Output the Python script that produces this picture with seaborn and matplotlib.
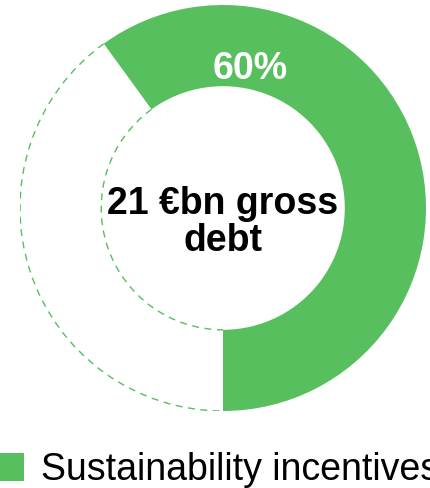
import numpy as np
import matplotlib
matplotlib.use("Agg")
import matplotlib.pyplot as plt
from matplotlib.patches import Arc
import seaborn as sns

# data
segments = ["Sustainability incentives", "Other"]
shares = [60, 40]
center_label = "21 €bn gross\ndebt"
green = "#57BF5E"

sns.set_theme(style="white")
plt.rcParams['font.family'] = ['Liberation Sans', 'DejaVu Sans']
plt.rcParams['text.color'] = 'black'

fig = plt.figure(figsize=(4.31, 4.88), dpi=100)
# square axes so that radius 1 ~ 203 px, centred at (223, 208) px from top-left
ax = fig.add_axes([20 / 431, 77 / 488, 406 / 431, 406 / 488])

start = 90 + 36
inner = 0.6
wedges, _ = ax.pie(shares, startangle=start, counterclock=False, radius=1,
                   colors=[green, "white"],
                   wedgeprops=dict(width=1 - inner, linewidth=0))

# dashed outline only on the arcs of the remaining share
rest = wedges[1]
for r in (1.0, inner):
    ax.add_patch(Arc((0, 0), 2 * r, 2 * r, theta1=rest.theta1, theta2=rest.theta2,
                     color=green, linewidth=1.0, linestyle=(0, (5, 4))))

ax.set_xlim(-1, 1)
ax.set_ylim(-1, 1)
ax.set_aspect("equal")
ax.axis("off")

# percentage label inside the green ring
ang = np.deg2rad(79)
ax.text(0.70 * np.cos(ang), 0.70 * np.sin(ang), f"{shares[0]}%", color="white",
        fontsize=27, fontweight="bold", ha="center", va="center")

ax.text(0, -0.07, center_label, color="black", fontsize=27, fontweight="bold",
        ha="center", va="center", linespacing=1.03)

leg = fig.legend([wedges[0]], [segments[0]], loc="lower left",
                 bbox_to_anchor=(-6 / 431, 0.0), bbox_transform=fig.transFigure,
                 frameon=False, fontsize=27, handlelength=0.8, handleheight=0.8,
                 handletextpad=0.45, borderpad=0, borderaxespad=0)
for t in leg.get_texts():
    t.set_color("black")

fig.savefig("out.png", dpi=100)
